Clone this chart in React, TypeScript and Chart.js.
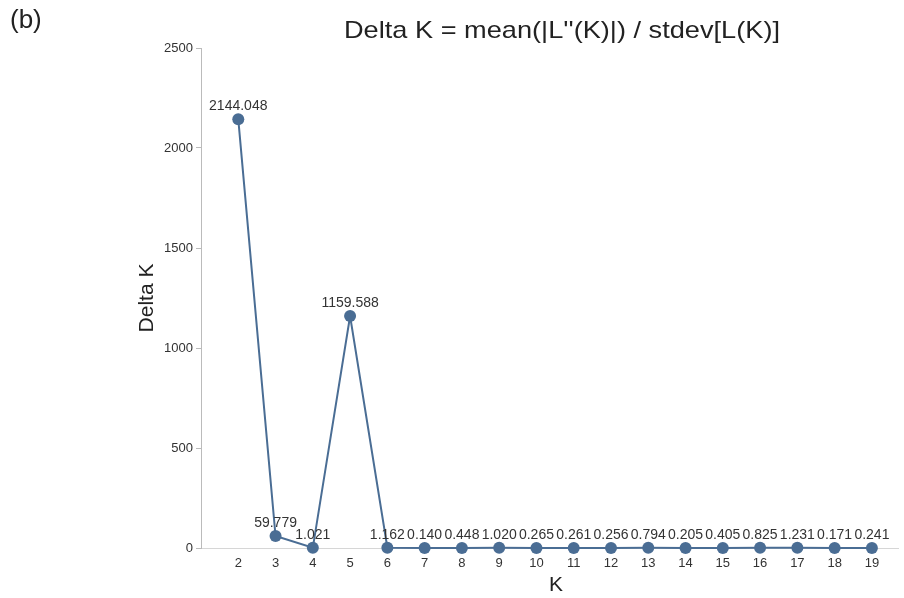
import React, { useEffect, useRef } from "react";
import { Chart, registerables } from "chart.js";

Chart.register(...registerables);

const kValues = [2, 3, 4, 5, 6, 7, 8, 9, 10, 11, 12, 13, 14, 15, 16, 17, 18, 19];
const deltaK = [2144.048, 59.779, 1.021, 1159.588, 1.162, 0.14, 0.448, 1.02, 0.265, 0.261, 0.256, 0.794, 0.205, 0.405, 0.825, 1.231, 0.171, 0.241];
const deltaKLabels = ["2144.048", "59.779", "1.021", "1159.588", "1.162", "0.140", "0.448", "1.020", "0.265", "0.261", "0.256", "0.794", "0.205", "0.405", "0.825", "1.231", "0.171", "0.241"];
const yTicks = [0, 500, 1000, 1500, 2000, 2500];

const panelLabel = "(b)";
const titleText = "Delta K = mean(|L''(K)|) / stdev[L(K)]";
const xTitle = "K";
const yTitle = "Delta K";

const FONT = "'Liberation Sans', Arial, sans-serif";
const COLOR = "#4a6d94";

const textPlugin = {
  id: "texts",
  afterDatasetsDraw(chart: any) {
    const ctx = chart.ctx;
    const meta = chart.getDatasetMeta(0);
    ctx.save();
    ctx.fillStyle = "#333";
    ctx.font = `14px ${FONT}`;
    ctx.textAlign = "center";
    ctx.textBaseline = "middle";
    meta.data.forEach((pt: any, i: number) => {
      ctx.fillText(deltaKLabels[i], pt.x, pt.y - 13);
    });
    ctx.font = `26px ${FONT}`;
    ctx.fillStyle = "#222";
    ctx.textAlign = "left";
    ctx.fillText(panelLabel, 10, 21);
    ctx.textAlign = "center";
    ctx.font = `24px ${FONT}`;
    const w = ctx.measureText(titleText).width;
    ctx.save();
    ctx.translate(562, 31);
    ctx.scale(436 / w, 1);
    ctx.fillText(titleText, 0, 0);
    ctx.restore();
    ctx.font = `21px ${FONT}`;
    ctx.fillText(xTitle, 556, 585);
    ctx.translate(147, 298);
    ctx.rotate(-Math.PI / 2);
    ctx.fillText(yTitle, 0, 0);
    ctx.restore();
  },
};

export default function App() {
  const ref = useRef<HTMLCanvasElement>(null);
  useEffect(() => {
    document.body.style.margin = "0";
    const chart = new Chart(ref.current!, {
      type: "line",
      data: {
        datasets: [
          {
            data: kValues.map((k, i) => ({ x: k, y: deltaK[i] })),
            borderColor: COLOR,
            backgroundColor: COLOR,
            borderWidth: 2,
            pointRadius: 6,
            pointBackgroundColor: COLOR,
            pointBorderWidth: 0,
            tension: 0,
            clip: false as any,
          },
        ],
      },
      options: {
        animation: false,
        responsive: false,
        layout: { padding: { top: 48, right: 4, left: 0, bottom: 0 } },
        plugins: { legend: { display: false }, tooltip: { enabled: false } },
        scales: {
          x: {
            type: "linear",
            min: 1,
            max: 19.7,
            afterBuildTicks: (s: any) => {
              s.ticks = kValues.map((v) => ({ value: v }));
            },
            afterFit: (s: any) => {
              s.height = 50;
            },
            grid: { display: false, drawTicks: false },
            border: { display: true, color: "#d6d6d6", width: 1 },
            ticks: {
              color: "#333",
              font: { family: FONT, size: 13 },
              padding: 8,
              maxRotation: 0,
              autoSkip: false,
              callback: (v: any) => String(v),
            },
          },
          y: {
            type: "linear",
            min: 0,
            max: 2500,
            afterBuildTicks: (s: any) => {
              s.ticks = yTicks.map((v) => ({ value: v }));
            },
            afterFit: (s: any) => {
              s.width = 201;
            },
            grid: { display: true, drawOnChartArea: false, drawTicks: true, tickLength: 5, color: "#bbb" },
            border: { display: true, color: "#bbb", width: 1 },
            ticks: {
              color: "#333",
              font: { family: FONT, size: 13 },
              padding: 3,
              callback: (v: any) => String(v),
            },
          },
        },
      },
      plugins: [textPlugin],
    });
    return () => chart.destroy();
  }, []);
  return (
    <div style={{ position: "absolute", left: 0, top: 0, width: 904, height: 598 }}>
      <canvas ref={ref} width={904} height={598} style={{ width: 904, height: 598 }} />
    </div>
  );
}
